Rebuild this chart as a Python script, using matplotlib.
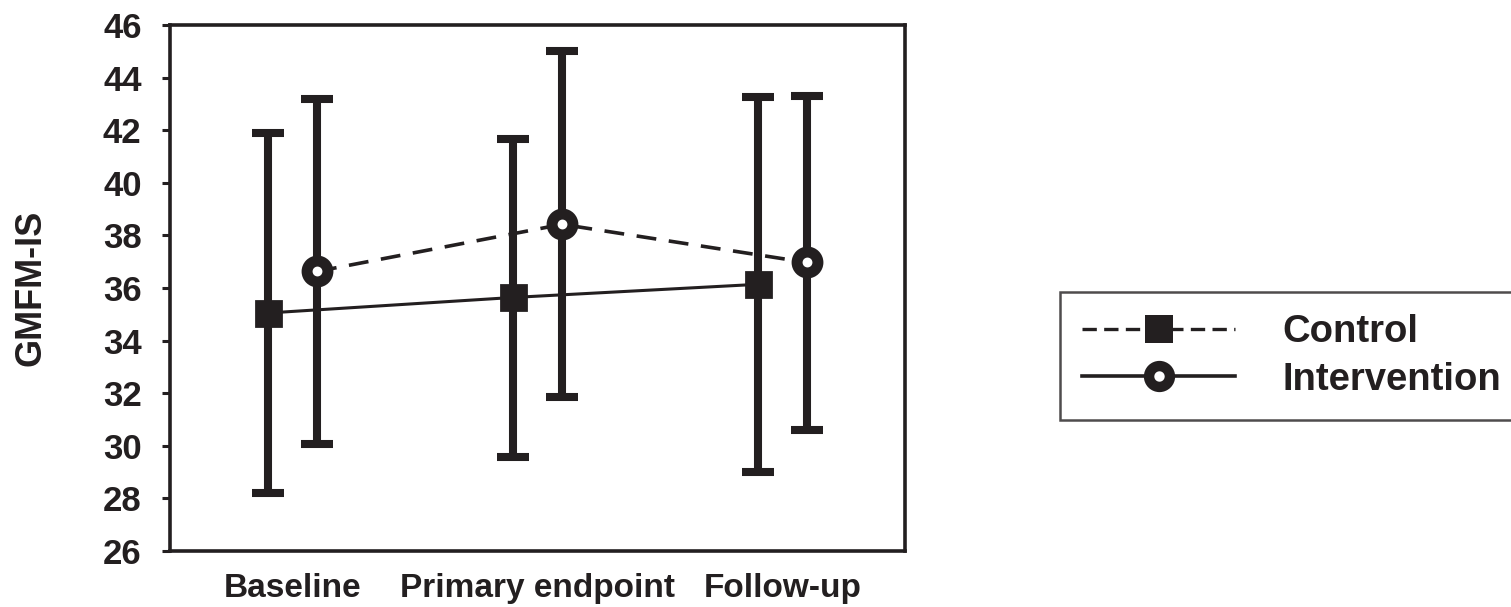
import matplotlib
matplotlib.use("Agg")
import numpy as np
import matplotlib.pyplot as plt
from matplotlib.lines import Line2D

# ==========================
# DATA
# ==========================
categories = ["Baseline", "Primary endpoint", "Follow-up"]

control_mean = [35.05, 35.64, 36.14]
control_low = [28.2, 29.56, 29.02]
control_high = [41.9, 41.68, 43.25]

interv_mean = [36.63, 38.42, 36.97]
interv_low = [30.06, 31.86, 30.59]
interv_high = [43.17, 45.0, 43.3]

yticks = list(range(26, 47, 2))

# ==========================
# STYLE
# ==========================
INK = "#231f20"
plt.rcParams["font.family"] = ["Liberation Sans", "DejaVu Sans"]
plt.rcParams["font.weight"] = "bold"

fig = plt.figure(figsize=(15.11, 6.07), dpi=100)
ax = fig.add_axes([0.1125, 0.0923, 0.4865, 0.8665])

x = np.arange(len(categories))
off = 0.1

c_err = [np.subtract(control_mean, control_low), np.subtract(control_high, control_mean)]
i_err = [np.subtract(interv_mean, interv_low), np.subtract(interv_high, interv_mean)]

# control: squares, solid line
ax.errorbar(x - off, control_mean, yerr=c_err, fmt="none", ecolor=INK,
            elinewidth=5.8, capsize=11.5, capthick=5.8, zorder=2)
ax.plot(x - off, control_mean, color=INK, lw=2.2, ls="-", zorder=3)
ax.plot(x - off, control_mean, ls="none", marker="s", ms=18, mfc=INK,
        mec=INK, mew=2, zorder=5)

# intervention: rings, dashed line
ax.errorbar(x + off, interv_mean, yerr=i_err, fmt="none", ecolor=INK,
            elinewidth=5.8, capsize=11.5, capthick=5.8, zorder=2)
ax.plot(x + off, interv_mean, color=INK, lw=2.6, ls=(0, (5.5, 3.5)), zorder=3)
ax.plot(x + off, interv_mean, ls="none", marker="o", ms=15, mfc="white",
        mec=INK, mew=7.9, zorder=5)

ax.set_xlim(-0.5, 2.5)
ax.set_ylim(26, 46)
ax.set_yticks(yticks)
ax.set_yticklabels([str(t) for t in yticks], fontsize=25, fontweight="bold", color=INK)
ax.set_xticks(x)
ax.set_xticklabels(categories, fontsize=24, fontweight="bold", color=INK)
ax.tick_params(axis="x", length=0, pad=16)
ax.tick_params(axis="y", direction="out", length=6, width=2.2, color=INK, pad=14.5)

for sp in ax.spines.values():
    sp.set_linewidth(2.6)
    sp.set_color(INK)

ax.set_ylabel("GMFM-IS", fontsize=26, fontweight="bold", color=INK)
ax.yaxis.set_label_coords(-0.165, 0.5)

# ==========================
# LEGEND (as in the original)
# ==========================
handles = [
    Line2D([], [], color=INK, lw=2.4, ls=(0, (4.3, 2.2)), marker="s", ms=20,
           mfc=INK, mec=INK, mew=0),
    Line2D([], [], color=INK, lw=2.6, ls="-", marker="o", ms=15, mfc="white",
           mec=INK, mew=7.5),
]
leg = fig.legend(handles, ["Control", "Intervention"], loc="upper left",
                 bbox_to_anchor=(0.7015, 0.313, 0.32, 0.206), mode="expand",
                 fontsize=27.5, handlelength=4.0, handletextpad=1.25,
                 borderpad=0.58, labelspacing=0.3, frameon=True,
                 fancybox=False, borderaxespad=0)
leg.get_frame().set_edgecolor(INK)
leg.get_frame().set_linewidth(1.8)
for t in leg.get_texts():
    t.set_color(INK)
    t.set_fontweight("bold")

fig.savefig("out.png", dpi=100)
